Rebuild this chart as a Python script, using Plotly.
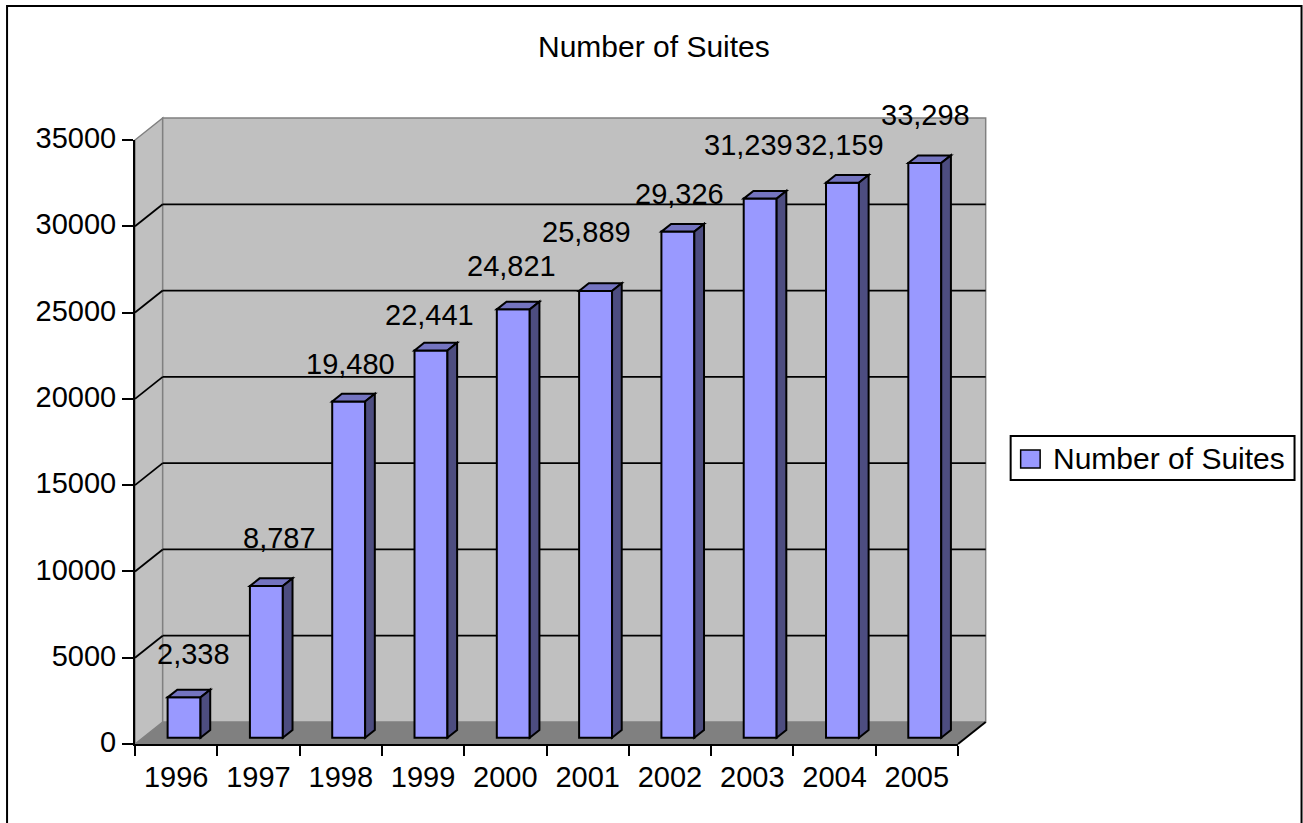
import plotly.graph_objects as go

# ---------------- data ----------------
years = ['1996', '1997', '1998', '1999', '2000', '2001', '2002', '2003', '2004', '2005']
suites = [2338, 8787, 19480, 22441, 24821, 25889, 29326, 31239, 32159, 33298]
y_tick_values = [0, 5000, 10000, 15000, 20000, 25000, 30000, 35000]
series_name = 'Number of Suites'
chart_title = 'Number of Suites'

# ---------------- styling / geometry ----------------
W, H = 1303, 823
M_L, M_R, M_T, M_B = 135, 344.67, 140, 79
X_RANGE = [-0.5, 9.5]
Y_RANGE = [0, 35000]
DEPTH_X = 0.3364      # x-depth of the 3D box in category units
DEPTH_Y = 1275        # y-depth of the 3D box in value units
BAR_FRONT = 0.286     # depth fraction of bar front plane
BAR_DEPTH = 0.35      # depth fraction occupied by bar
BAR_W = 0.40
FONT = 'Liberation Sans, Arial, sans-serif'
FRONT = '#9999FF'
TOP = '#7474C0'
SIDE = '#4D4D80'
WALL = '#C0C0C0'
FLOOR = '#808080'
EDGE = '#808080'
# pixel nudges of data labels relative to bar front-top centre
label_dx = [9.5, 13, 1.5, -1, -2, -9, 1.7, -12, -3, 1]
label_dy = [43.4, 47.8, 37.8, 35.7, 43.4, 59.2, 37.9, 53.6, 37.7, 48.1]

plot_w = W - M_L - M_R
plot_h = H - M_T - M_B


def xp(x):  # data -> paper (x)
    return (x - X_RANGE[0]) / (X_RANGE[1] - X_RANGE[0])


def yp(y):  # data -> paper (y)
    return (y - Y_RANGE[0]) / (Y_RANGE[1] - Y_RANGE[0])


def pxp(px):  # pixel -> paper
    return (px - M_L) / plot_w


def pyp(py):
    return (H - M_B - py) / plot_h


shapes = []
# left wall
lx0, lx1 = X_RANGE[0], X_RANGE[0] + DEPTH_X
shapes.append(dict(type='path', xref='paper', yref='paper', layer='below',
                   path=f'M{xp(lx0)},{yp(0)} L{xp(lx1)},{yp(DEPTH_Y)} L{xp(lx1)},{yp(35000 + DEPTH_Y)} '
                        f'L{xp(lx0)},{yp(35000)} Z',
                   fillcolor=WALL, line=dict(color=EDGE, width=1.5)))
# back wall
shapes.append(dict(type='rect', xref='paper', yref='paper', layer='below',
                   x0=xp(lx1), x1=xp(X_RANGE[1] + DEPTH_X), y0=yp(DEPTH_Y), y1=yp(35000 + DEPTH_Y),
                   fillcolor=WALL, line=dict(color=EDGE, width=1.5)))
# floor
shapes.append(dict(type='path', xref='paper', yref='paper', layer='below',
                   path=f'M{xp(X_RANGE[0])},{yp(0)} L{xp(X_RANGE[1])},{yp(0)} '
                        f'L{xp(X_RANGE[1] + DEPTH_X)},{yp(DEPTH_Y)} L{xp(lx1)},{yp(DEPTH_Y)} Z',
                   fillcolor=FLOOR, line=dict(width=0)))
shapes.append(dict(type='line', xref='paper', yref='paper', layer='below',
                   x0=xp(X_RANGE[1]), y0=yp(0), x1=xp(X_RANGE[1] + DEPTH_X), y1=yp(DEPTH_Y),
                   line=dict(color='black', width=2)))
# gridlines (back + left wall)
for v in y_tick_values[1:-1]:
    shapes.append(dict(type='line', xref='paper', yref='paper', layer='below',
                       x0=xp(lx1), x1=xp(X_RANGE[1] + DEPTH_X), y0=yp(v + DEPTH_Y), y1=yp(v + DEPTH_Y),
                       line=dict(color='black', width=1.8)))
    shapes.append(dict(type='line', xref='paper', yref='paper', layer='below',
                       x0=xp(lx0), x1=xp(lx1), y0=yp(v), y1=yp(v + DEPTH_Y),
                       line=dict(color='black', width=1.8)))

# bar top and side faces
base = BAR_FRONT * DEPTH_Y
shift = BAR_FRONT * DEPTH_X
ddx = BAR_DEPTH * DEPTH_X
ddy = BAR_DEPTH * DEPTH_Y
for i, v in enumerate(suites):
    xl = i + shift - BAR_W / 2
    xr = i + shift + BAR_W / 2
    t = base + v
    shapes.append(dict(type='path', xref='x', yref='y', layer='above',
                       path=f'M{xl},{t} L{xr},{t} L{xr + ddx},{t + ddy} L{xl + ddx},{t + ddy} Z',
                       fillcolor=TOP, line=dict(color='black', width=2)))
    shapes.append(dict(type='path', xref='x', yref='y', layer='above',
                       path=f'M{xr},{base} L{xr},{t} L{xr + ddx},{t + ddy} L{xr + ddx},{base + ddy} Z',
                       fillcolor=SIDE, line=dict(color='black', width=2)))

# legend (drawn manually)
shapes.append(dict(type='rect', xref='paper', yref='paper', x0=pxp(1011), x1=pxp(1295),
                   y0=pyp(480), y1=pyp(436), fillcolor='white', line=dict(color='black', width=2)))
shapes.append(dict(type='rect', xref='paper', yref='paper', x0=pxp(1021), x1=pxp(1040.5),
                   y0=pyp(468), y1=pyp(450), fillcolor=FRONT, line=dict(color='black', width=1.5)))
# outer border
shapes.append(dict(type='rect', xref='paper', yref='paper', x0=pxp(7), x1=pxp(1302),
                   y0=pyp(835), y1=pyp(6), line=dict(color='black', width=2)))

annotations = []
for i, v in enumerate(suites):
    annotations.append(dict(x=i + shift, y=base + v, xref='x', yref='y', text=f'{v:,}',
                            showarrow=False, xanchor='center', yanchor='middle',
                            xshift=label_dx[i], yshift=label_dy[i],
                            font=dict(family=FONT, size=29, color='black')))
annotations.append(dict(x=pxp(654), y=pyp(47), xref='paper', yref='paper', text=chart_title,
                        showarrow=False, xanchor='center', yanchor='middle',
                        font=dict(family=FONT, size=30, color='black')))
annotations.append(dict(x=pxp(1051), y=pyp(458), xref='paper', yref='paper', text=series_name,
                        showarrow=False, xanchor='left', yanchor='middle',
                        font=dict(family=FONT, size=30, color='black')))

fig = go.Figure()
fig.add_trace(go.Bar(x=years, y=suites, base=base, width=BAR_W, offset=shift - BAR_W / 2,
                     marker=dict(color=FRONT, line=dict(color='black', width=2)),
                     name=series_name, showlegend=False, hoverinfo='skip'))

fig.update_layout(
    width=W, height=H, template='none',
    margin=dict(l=M_L, r=M_R, t=M_T, b=M_B, pad=0, autoexpand=False),
    paper_bgcolor='white', plot_bgcolor='rgba(0,0,0,0)',
    shapes=shapes, annotations=annotations, showlegend=False,
    xaxis=dict(type='category', range=X_RANGE, tickson='boundaries', ticks='outside', ticklen=10,
               tickwidth=2, tickcolor='black', showline=True, linecolor='black', linewidth=2,
               showgrid=False, zeroline=False, automargin=False, ticklabelstandoff=6,
               tickfont=dict(family=FONT, size=29, color='black')),
    yaxis=dict(range=Y_RANGE, tickvals=y_tick_values, ticktext=[str(v) for v in y_tick_values],
               ticks='outside', ticklen=11, tickwidth=2, tickcolor='black', showline=True,
               linecolor='black', linewidth=2, showgrid=False, zeroline=False, automargin=False,
               ticklabelshift=-2,
               tickfont=dict(family=FONT, size=29, color='black')),
)

fig.write_html('out.html')
